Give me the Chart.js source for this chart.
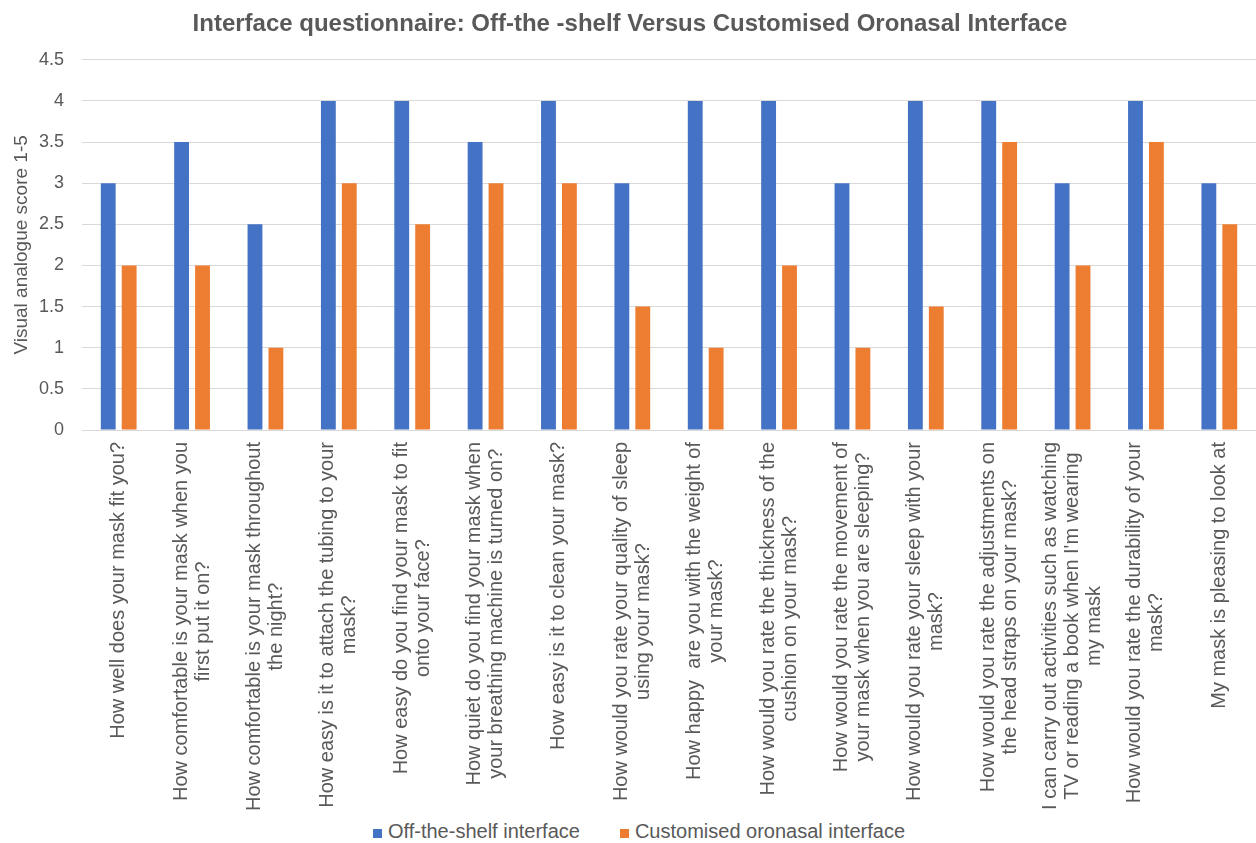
<!DOCTYPE html>
<html>
<head>
<meta charset="utf-8">
<title>Interface questionnaire</title>
<script src="https://cdn.jsdelivr.net/npm/chart.js@4/dist/chart.umd.min.js"></script>
<style>
  html, body { margin: 0; height: 843px; overflow: hidden; background: #fff; font-family: 'Liberation Sans', Arial, sans-serif; }
  .chart-box { position: relative; width: 1256px; height: 810px; }
  .legend { position: absolute; left: 0; top: 820px; width: 1256px; box-sizing: border-box; display: flex; justify-content: center; align-items: center; height: 23px; line-height: 23px; padding-left: 22px; color: #595959; font-size: 20px; }
  .legend span { display: flex; align-items: center; }
  .legend span + span { margin-left: 40px; }
  .legend i { display: inline-block; width: 9px; height: 9px; margin: 3px 6px 0 0; }
</style>
</head>
<body>
<div class="chart-box"><canvas id="survey-chart"></canvas></div>
<div class="legend" id="legend"></div>

<script>
// questions, one array of lines per question
const questions = [
    ['How well does your mask fit you?'],
    ['How comfortable is your mask when you', 'first put it on?'],
    ['How comfortable is your mask throughout', 'the night?'],
    ['How easy is it to attach the tubing to your', 'mask?'],
    ['How easy do you find your mask to fit', 'onto your face?'],
    ['How quiet do you find your mask when', 'your breathing machine is turned on?'],
    ['How easy is it to clean your mask?'],
    ['How would you rate your quality of sleep', 'using your mask?'],
    ['How happy  are you with the weight of', 'your mask?'],
    ['How would you rate the thickness of the', 'cushion on your mask?'],
    ['How would you rate the movement of', 'your mask when you are sleeping?'],
    ['How would you rate your sleep with your', 'mask?'],
    ['How would you rate the adjustments on', 'the head straps on your mask?'],
    ['I can carry out activities such as watching', 'TV or reading a book when I\'m wearing', 'my mask'],
    ['How would you rate the durability of your', 'mask?'],
    ['My mask is pleasing to look at']
]
const offTheShelf = [3, 3.5, 2.5, 4, 4, 3.5, 4, 3, 4, 4, 3, 4, 4, 3, 4, 3]
const customised = [2, 2, 1, 3, 2.5, 3, 3, 1.5, 1, 2, 1, 1.5, 3.5, 2, 3.5, 2.5]
const yTickLabels = ['0', '0.5', '1', '1.5', '2', '2.5', '3', '3.5', '4', '4.5']

const seriesNames = ['Off-the-shelf interface', 'Customised oronasal interface']
const seriesColors = ['#4472C4', '#ED7D31']
const textColor = '#595959'
const fontFamily = "'Liberation Sans', Arial, sans-serif"

// question labels: rotated, lines centred on each other
const questionLabels = {
    id: 'questionLabels',
    afterDraw(chart) {
        const x = chart.scales.x
        const ctx = chart.ctx
        const lineH = 22
        ctx.save()
        ctx.font = '20px ' + fontFamily
        ctx.fillStyle = textColor
        ctx.textAlign = 'center'
        ctx.textBaseline = 'middle'
        questions.forEach(function (lines, i) {
            const cx = x.getPixelForValue(i)
            const w = Math.max(...lines.map(l => ctx.measureText(l).width))
            const top = x.top + 12
            lines.forEach(function (line, j) {
                ctx.save()
                ctx.translate(cx + (j - (lines.length - 1) / 2) * lineH, top + w / 2)
                ctx.rotate(-Math.PI / 2)
                ctx.fillText(line, 0, 0)
                ctx.restore()
            })
        })
        ctx.restore()
    }
}

new Chart(document.getElementById('survey-chart'), {
    type: 'bar',
    data: {
        labels: questions.map(q => q.join(' ')),
        datasets: [
            {
                label: seriesNames[0],
                data: offTheShelf,
                backgroundColor: seriesColors[0],
                categoryPercentage: 0.57,
                barPercentage: 0.71
            },
            {
                label: seriesNames[1],
                data: customised,
                backgroundColor: seriesColors[1],
                categoryPercentage: 0.57,
                barPercentage: 0.71
            }
        ]
    },
    options: {
        responsive: true,
        maintainAspectRatio: false,
        animation: false,
        layout: {
            padding: { left: 4, right: 0, top: 0, bottom: 0 }
        },
        plugins: {
            legend: { display: false },
            tooltip: { enabled: false },
            title: {
                display: true,
                text: 'Interface questionnaire: Off-the -shelf Versus Customised Oronasal Interface',
                color: textColor,
                font: { family: fontFamily, size: 24, weight: 'bold' },
                padding: { top: 10, bottom: 21 }
            }
        },
        scales: {
            x: {
                grid: { display: false },
                border: { display: false },
                ticks: { display: false },
                afterFit: function (scale) {
                    scale.height = 380
                }
            },
            y: {
                min: 0,
                max: 4.5,
                grid: { color: '#d9d9d9', lineWidth: 1, drawTicks: false },
                border: { display: false },
                ticks: {
                    stepSize: 0.5,
                    padding: 18,
                    color: textColor,
                    font: { family: fontFamily, size: 18 },
                    callback: function (value, index) {
                        return yTickLabels[index]
                    }
                },
                title: {
                    display: true,
                    text: 'Visual analogue score 1-5',
                    color: textColor,
                    font: { family: fontFamily, size: 19 },
                    padding: { top: 6, bottom: 9 }
                },
                afterFit: function (scale) {
                    scale.width = 78
                }
            }
        }
    },
    plugins: [questionLabels]
});

// legend under the chart
document.getElementById('legend').innerHTML = seriesNames.map(function (name, i) {
    return '<span><i style="background:' + seriesColors[i] + '"></i>' + name + '</span>'
}).join('')
</script>
</body>
</html>
